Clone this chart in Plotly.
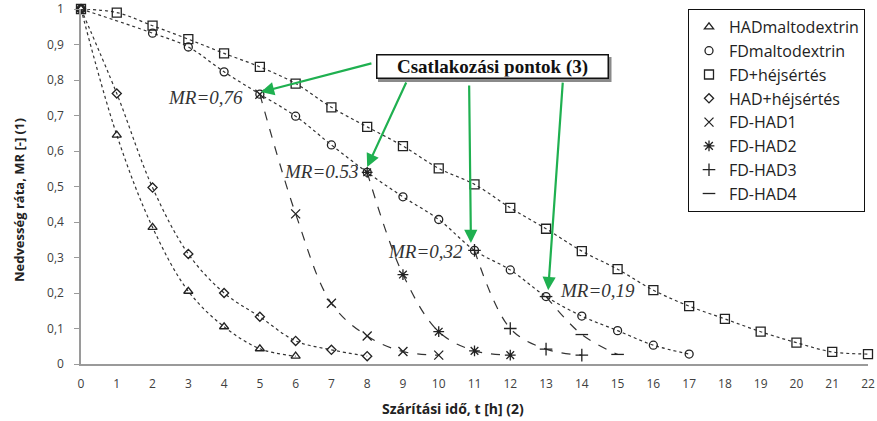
import plotly.graph_objects as go

# ---- data ----
t_had_malto = [0, 1, 2, 3, 4, 5, 6]
mr_had_malto = [1.0, 0.645, 0.385, 0.205, 0.105, 0.043, 0.022]

t_fd_malto = [0, 2, 3, 4, 5, 6, 7, 8, 9, 10, 11, 12, 13, 14, 15, 16, 17]
mr_fd_malto = [1.0, 0.932, 0.893, 0.823, 0.76, 0.698, 0.617, 0.54, 0.471, 0.407,
               0.32, 0.265, 0.19, 0.135, 0.094, 0.053, 0.028]

t_fd_hej = list(range(0, 23))
mr_fd_hej = [1.0, 0.99, 0.953, 0.915, 0.875, 0.837, 0.79, 0.723, 0.668, 0.614, 0.551,
             0.506, 0.44, 0.381, 0.318, 0.267, 0.208, 0.163, 0.127, 0.091, 0.06, 0.034, 0.028]

t_had_hej = [0, 1, 2, 3, 4, 5, 6, 7, 8]
mr_had_hej = [1.0, 0.762, 0.497, 0.31, 0.2, 0.133, 0.065, 0.04, 0.022]

t_fdhad1 = [5, 6, 7, 8, 9, 10]
mr_fdhad1 = [0.76, 0.423, 0.171, 0.079, 0.035, 0.025]

t_fdhad2 = [8, 9, 10, 11, 12]
mr_fdhad2 = [0.54, 0.252, 0.091, 0.037, 0.025]

t_fdhad3 = [11, 12, 13, 14]
mr_fdhad3 = [0.32, 0.10, 0.042, 0.025]

t_fdhad4 = [13, 14, 15]
mr_fdhad4 = [0.19, 0.083, 0.027]

series_names = ["HADmaltodextrin", "FDmaltodextrin", "FD+héjsértés", "HAD+héjsértés",
                "FD-HAD1", "FD-HAD2", "FD-HAD3", "FD-HAD4"]
y_tick_vals = [0, 0.1, 0.2, 0.3, 0.4, 0.5, 0.6, 0.7, 0.8, 0.9, 1.0]
y_tick_text = ["0", "0,1", "0,2", "0,3", "0,4", "0,5", "0,6", "0,7", "0,8", "0,9", "1"]
x_tick_vals = list(range(0, 23))

series = [
    (t_had_malto, mr_had_malto, "triangle-up-open", 8, "dot"),
    (t_fd_malto, mr_fd_malto, "circle-open", 8, "dot"),
    (t_fd_hej, mr_fd_hej, "square-open", 9, "dot"),
    (t_had_hej, mr_had_hej, "diamond-open", 7, "dot"),
    (t_fdhad1, mr_fdhad1, "x-thin-open", 9, "dash"),
    (t_fdhad2, mr_fdhad2, "asterisk-open", 9, "dash"),
    (t_fdhad3, mr_fdhad3, "cross-thin-open", 9, "dash"),
    (t_fdhad4, mr_fdhad4, "line-ew-open", 9, "dash"),
]

INK = "#222222"
GREEN = "#1fb050"

fig = go.Figure()

# trend lines (no legend)
for (tx, ty, sym, sz, dash), name in zip(series, series_names):
    fig.add_trace(go.Scatter(
        x=tx, y=ty, mode="lines", showlegend=False, hoverinfo="skip",
        line=dict(color="#333333", width=1.2, dash=dash, shape="spline", smoothing=1.0),
    ))

# markers (legend)
for (tx, ty, sym, sz, dash), name in zip(series, series_names):
    fig.add_trace(go.Scatter(
        x=tx, y=ty, mode="markers", name=name, cliponaxis=False,
        marker=dict(symbol=sym, size=sz, color=INK, line=dict(color=INK, width=1.3)),
    ))

annotations = []
# callout box
annotations.append(dict(
    x=11.49, y=0.837, xref="x", yref="y", showarrow=False,
    text="<b>Csatlakozási pontok (3)</b>",
    font=dict(family="Liberation Serif", size=19, color="#111111"),
    bgcolor="white", bordercolor="#111111", borderwidth=1.5, borderpad=1,
    width=228, height=20,
))
# green arrows
arrows = [
    (5.03, 0.766, 8.16, 0.848),
    (8.00, 0.555, 9.11, 0.797),
    (10.90, 0.341, 10.85, 0.789),
    (13.06, 0.208, 13.47, 0.797),
]
for x, y, ax, ay in arrows:
    annotations.append(dict(
        x=x, y=y, ax=ax, ay=ay, xref="x", yref="y", axref="x", ayref="y",
        text="", showarrow=True, arrowhead=2, arrowsize=1.2, arrowwidth=2.2,
        arrowcolor=GREEN,
    ))
# MR labels
mr_labels = [("MR=0,76", 3.47, 0.752), ("MR=0.53", 6.71, 0.541),
             ("MR=0,32", 9.62, 0.318), ("MR=0,19", 14.45, 0.206)]
for txt, x, y in mr_labels:
    annotations.append(dict(
        x=x, y=y, xref="x", yref="y", showarrow=False, text="<i>" + txt + "</i>",
        font=dict(family="Liberation Serif", size=19, color="#333333"),
    ))
# axis titles
annotations.append(dict(
    x=(453 - 81) / 787, y=-(408 - 364) / 355, xref="paper", yref="paper",
    showarrow=False, text="<b>Szárítási idő, t [h] (2)</b>",
    font=dict(family="Open Sans", size=14, color="#222222"),
    xanchor="center", yanchor="middle",
))
annotations.append(dict(
    x=(19 - 81) / 787, y=(364 - 200) / 355, xref="paper", yref="paper",
    showarrow=False, text="<b>Nedvesség ráta, MR [-] (1)</b>", textangle=-90,
    font=dict(family="Open Sans", size=13, color="#222222"),
    xanchor="center", yanchor="middle",
))

# drop shadow of the callout box (pixel-based, in paper coords)
def px_x(p):
    return (p - 81) / 787


def px_y(p):
    return (364 - p) / 355


shapes = [dict(
    type="rect", xref="paper", yref="paper", layer="above",
    x0=px_x(378), x1=px_x(611.5), y0=px_y(82), y1=px_y(57),
    line=dict(width=0), fillcolor="#8a8a8a",
)]

fig.update_layout(
    width=877, height=421,
    margin=dict(l=81, r=9, t=9, b=57, autoexpand=False),
    paper_bgcolor="white", plot_bgcolor="white",
    font=dict(family="Open Sans", size=12, color="#404040"),
    showlegend=True,
    legend=dict(
        x=(688 - 81) / 787, y=1.0, xanchor="left", yanchor="top",
        bordercolor="#111111", borderwidth=1, bgcolor="white",
        font=dict(family="Open Sans", size=16, color="#222222"),
        tracegroupgap=0,
    ),
    xaxis=dict(
        range=[0, 22], tickmode="array", tickvals=x_tick_vals,
        ticktext=[str(v) for v in x_tick_vals], automargin=False,
        showgrid=False, zeroline=False, showline=True, linecolor="#9a9a9a", linewidth=1.5,
        ticks="", ticklen=0, ticklabelstandoff=8, tickfont=dict(size=12, color="#404040"),
    ),
    yaxis=dict(
        range=[0, 1], tickmode="array", tickvals=y_tick_vals, ticktext=y_tick_text,
        automargin=False,
        showgrid=False, zeroline=False, showline=True, linecolor="#9a9a9a", linewidth=1.5,
        ticks="outside", ticklen=5, tickcolor="#9a9a9a", ticklabelstandoff=8,
        tickfont=dict(size=12, color="#404040"),
    ),
    annotations=annotations,
    shapes=shapes,
)

fig.write_html("out.html")
